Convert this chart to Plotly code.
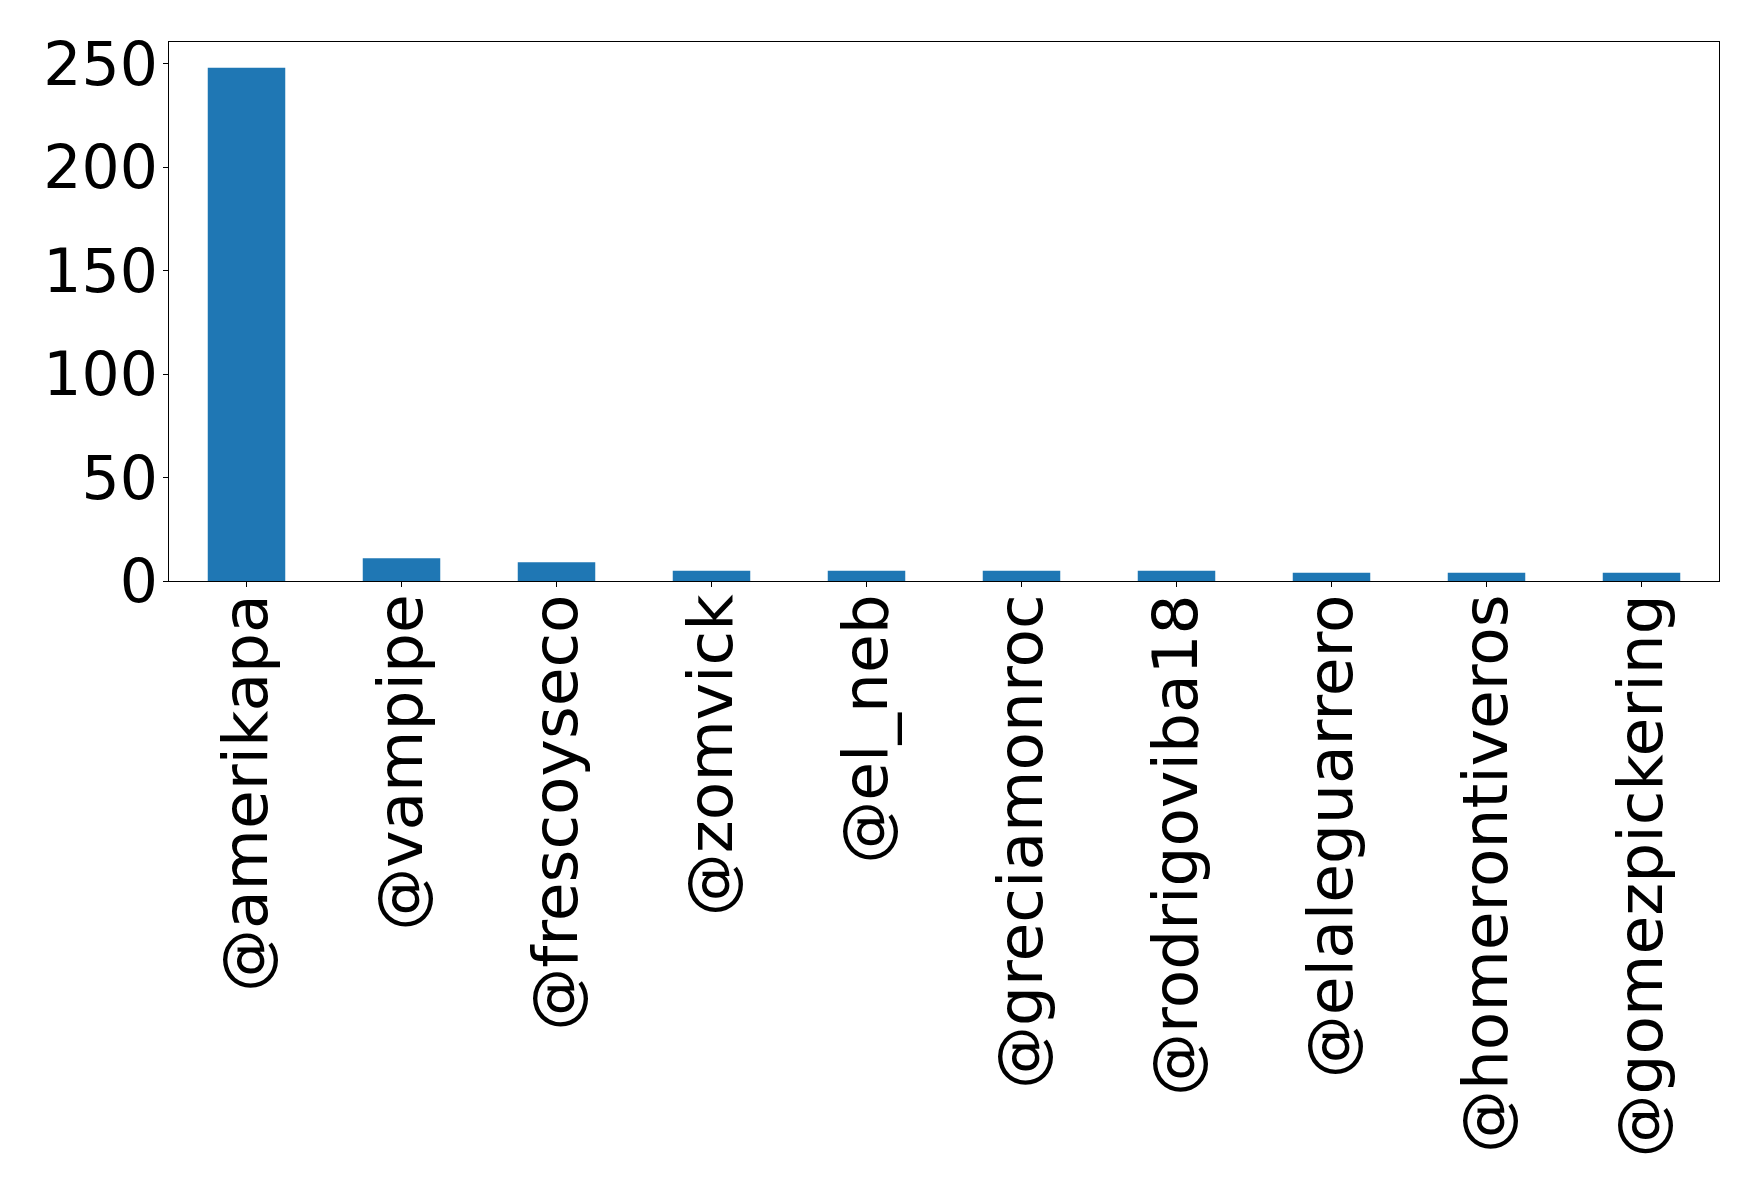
import plotly.graph_objects as go

usuarios = ['@amerikapa', '@vampipe', '@frescoyseco', '@zomvick', '@el_neb',
            '@greciamonroc', '@rodrigoviba18', '@elaleguarrero', '@homerontiveros',
            '@gomezpickering']
menciones = [248, 11, 9, 5, 5, 5, 5, 4, 4, 4]

fig = go.Figure()
fig.add_trace(go.Bar(x=list(range(len(usuarios))), y=menciones,
                     marker_color='#1f77b4', marker_line_width=0, width=0.5))

# la pagina html deja 8px de margen en el body
fig.update_layout(
    width=1750, height=1181,
    margin=dict(l=161, r=39, t=34, b=608),
    plot_bgcolor='white', paper_bgcolor='white',
    font=dict(family='DejaVu Sans', size=60, color='black'),
    showlegend=False,
)
fig.update_xaxes(range=[-0.5, 9.5], tickmode='array',
                 tickvals=list(range(len(usuarios))), ticktext=usuarios,
                 tickangle=-90, tickfont=dict(size=63),
                 ticks='outside', ticklen=5, tickwidth=1.2,
                 tickcolor='black', showline=True, linecolor='black',
                 linewidth=1.3, mirror=True, showgrid=False, zeroline=False,
                 ticklabelstandoff=-18)
fig.update_yaxes(range=[0, 260.4], tickvals=[0, 50, 100, 150, 200, 250],
                 ticks='outside', ticklen=5, tickwidth=1.2, tickcolor='black',
                 showline=True, linecolor='black', linewidth=1.3, mirror=True,
                 showgrid=False, zeroline=False, ticklabelstandoff=-7)

fig.write_html("out.html")
